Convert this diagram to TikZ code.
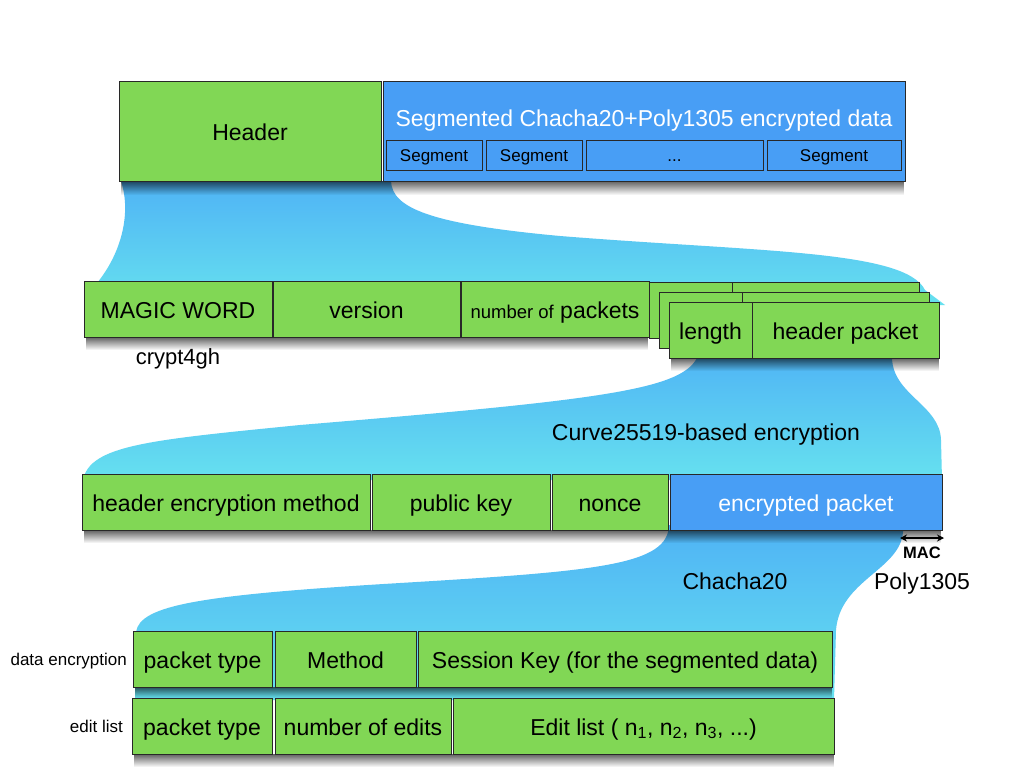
\documentclass[tikz,border=0pt]{standalone}
\usepackage{fontspec}
\setmainfont{Liberation Sans}
\usetikzlibrary{arrows.meta,fadings}
\definecolor{gfill}{RGB}{129,215,85}
\definecolor{bfill}{RGB}{72,158,245}
\definecolor{edgec}{RGB}{40,40,40}
\definecolor{ftop}{RGB}{79,179,245}
\definecolor{fbot}{RGB}{102,225,239}
\tikzfading[name=shfade, top color=transparent!38, bottom color=transparent!100]
\begin{document}
\begin{tikzpicture}[x=1pt,y=-1pt,
  cell/.style={draw=edgec,line width=0.8pt,inner sep=0pt,outer sep=0pt,
    font=\fontsize{23}{27}\selectfont,text height=18pt,text depth=0pt},
  gcell/.style={cell,fill=gfill},
  bcell/.style={cell,fill=bfill,text=white},
  segbox/.style={draw=edgec,line width=0.8pt,fill=bfill,inner sep=0pt,outer sep=0pt,
    minimum height=30pt,font=\fontsize{17}{20}\selectfont,text height=13.3pt,text depth=0pt},
  lbl/.style={font=\fontsize{23}{27}\selectfont,inner sep=0pt,text height=18pt,text depth=0pt},
  smalllbl/.style={font=\fontsize{17}{20}\selectfont,inner sep=0pt,text height=13.3pt,text depth=0pt},
  funnel/.style={top color=ftop,bottom color=fbot,draw=none},
  shd/.style={fill=black,path fading=shfade}
]
\useasboundingbox (0,0) rectangle (1024,768);
\fill[white] (0,0) rectangle (1024,768);

% funnels
\shade[funnel] (121,181) -- (391,181) .. controls (392,208) and (430,224) .. (560,236)
  .. controls (760,252) and (905,250) .. (925,290) -- (945,305) -- (90,305) -- (97,283)
  .. controls (120,255) and (132,215) .. (121,181) -- cycle;
\shade[funnel] (697,350) -- (892,350) -- (892,358) .. controls (893,395) and (940,405) .. (941,440)
  -- (942,480) -- (83,480) .. controls (90,445) and (150,440) .. (300,425)
  .. controls (600,400) and (680,390) .. (697,358) -- cycle;
\shade[funnel] (669,525) -- (903,525) -- (903,532) .. controls (900,570) and (840,580) .. (836,630)
  -- (834,700) -- (135,700) -- (136,632) .. controls (140,605) and (200,595) .. (400,583)
  .. controls (600,571) and (668,565) .. (669,525) -- cycle;

% soft shadows under the rows of boxes
\fill[shd] (121,181) rectangle (905,195);
\fill[shd] (86,337) rectangle (649,350);
\fill[shd] (671,358) rectangle (939,371);
\fill[shd] (84,530) rectangle (942,543);
\fill[shd] (135,687) rectangle (832,698);
\fill[shd] (134,754) rectangle (834,767);

% row 1
\node[gcell,minimum width=262pt,minimum height=100pt] (hdr) at (250,131) {Header};
\node[bcell,minimum width=522pt,minimum height=100pt] (data) at (644,131) {};
\node[lbl,text=white] (datat) at (644,117) {Segmented Chacha20+Poly1305 encrypted data};
\node[segbox,minimum width=96pt] (s1) at (434,155) {Segment};
\node[segbox,minimum width=96pt] (s2) at (534,155) {Segment};
\node[segbox,minimum width=177pt] (s3) at (674.5,155) {...};
\node[segbox,minimum width=134pt] (s4) at (834,155) {Segment};

% row 2
\node[gcell,minimum width=188pt,minimum height=56pt] (magic) at (178,309) {MAGIC WORD};
\node[gcell,minimum width=187pt,minimum height=56pt] (ver) at (366.5,309) {version};
\node[gcell,minimum width=188pt,minimum height=56pt] (npk) at (555,309) {{\fontsize{18.5}{22}\selectfont number of} packets};
\node[gcell,minimum width=83pt,minimum height=56pt] (bl1) at (690.5,310) {};
\node[gcell,minimum width=187pt,minimum height=56pt] (bh1) at (825.5,310) {};
\node[gcell,minimum width=83pt,minimum height=56pt] (bl2) at (700.5,320) {};
\node[gcell,minimum width=187pt,minimum height=56pt] (bh2) at (835.5,320) {};
\node[gcell,minimum width=83pt,minimum height=56pt] (len) at (710.5,330) {length};
\node[gcell,minimum width=187pt,minimum height=56pt] (hpk) at (845.5,330) {header packet};
\node[lbl,font=\fontsize{22}{26}\selectfont] (c4gh) at (178,355) {crypt4gh};

% row 3
\node[lbl] (curve) at (706,431) {Curve25519-based encryption};
\node[gcell,minimum width=288pt,minimum height=56pt] (hem) at (226,502) {header encryption method};
\node[gcell,minimum width=178pt,minimum height=56pt] (pub) at (461,502) {public key};
\node[gcell,minimum width=116pt,minimum height=56pt] (nonce) at (610,502) {nonce};
\node[bcell,minimum width=272pt,minimum height=56pt] (encp) at (806,502) {encrypted packet};
\coordinate (macA) at (900,538);
\coordinate (macB) at (944,538);
\draw[{Stealth[length=7pt,width=7pt]}-{Stealth[length=7pt,width=7pt]},line width=1.3pt] (macA) -- (macB);
\node[font=\bfseries\fontsize{16.5}{19}\selectfont,inner sep=0pt,text height=12.9pt,text depth=0pt] (mac) at (922,552.5) {MAC};
\node[lbl] (chacha) at (735,580) {Chacha20};
\node[lbl] (poly) at (922,580) {Poly1305};

% row 4
\node[gcell,minimum width=139pt,minimum height=56pt] (pt1) at (202.5,659) {packet type};
\node[gcell,minimum width=141pt,minimum height=56pt] (meth) at (345.5,659) {Method};
\node[gcell,minimum width=414pt,minimum height=56pt] (skey) at (625,659) {Session Key (for the segmented data)};
\node[smalllbl,anchor=east] (dencl) at (127,658.5) {data encryption};

% row 5
\node[gcell,minimum width=140pt,minimum height=56pt] (pt2) at (202,726) {packet type};
\node[gcell,minimum width=176pt,minimum height=56pt] (noe) at (363,726) {number of edits};
\node[gcell,minimum width=381pt,minimum height=56pt] (elist) at (643.5,726) {Edit list ( n\textsubscript{1}, n\textsubscript{2}, n\textsubscript{3}, ...)};
\node[smalllbl,anchor=east] (editl) at (123,725.5) {edit list};
\end{tikzpicture}
\end{document}
